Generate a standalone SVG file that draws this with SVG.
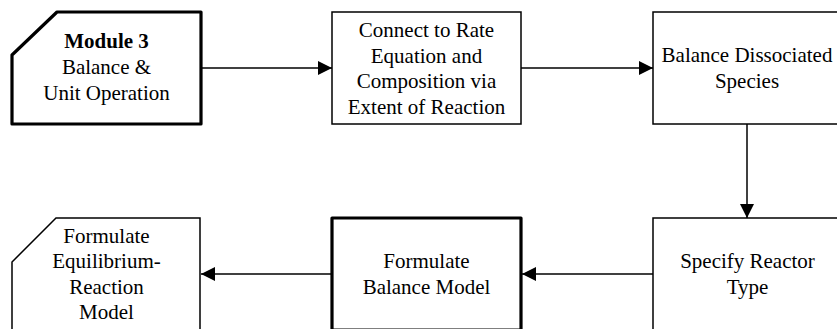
<svg xmlns="http://www.w3.org/2000/svg" width="837" height="329" viewBox="0 0 837 329">
<style>
.box{fill:#fff;stroke:#000;stroke-width:1.5}
.thick{fill:#fff;stroke:#000;stroke-width:3.2;stroke-linejoin:round}
.conn{stroke:#000;stroke-width:1.5;fill:none}
</style>
<defs>
<marker id="ah" markerWidth="14" markerHeight="14" viewBox="0 0 14 14" refX="14" refY="7" orient="auto" markerUnits="userSpaceOnUse">
<path d="M0,0 L14,7 L0,14 Z" fill="#000"/>
</marker>
</defs>
<rect width="837" height="329" fill="#fff"/>
<g id="connectors">
<line class="conn" x1="201" y1="68" x2="332" y2="68" marker-end="url(#ah)"/>
<line class="conn" x1="521" y1="68" x2="653" y2="68" marker-end="url(#ah)"/>
<line class="conn" x1="747" y1="124" x2="747" y2="218" marker-end="url(#ah)"/>
<line class="conn" x1="653" y1="274" x2="522" y2="274" marker-end="url(#ah)"/>
<line class="conn" x1="332" y1="274" x2="201" y2="274" marker-end="url(#ah)"/>
</g>
<g id="module3">
<path class="thick" d="M57,12 L201,12 L201,124 L12,124 L12,55 Z"/>
<text x="106.5" y="48" font-family="Liberation Serif" font-size="21" font-weight="bold" text-anchor="middle">Module 3</text>
<text x="106.5" y="74" font-family="Liberation Serif" font-size="21" text-anchor="middle">Balance &amp;</text>
<text x="106.5" y="100" font-family="Liberation Serif" font-size="21" text-anchor="middle">Unit Operation</text>
</g>
<g id="connect">
<rect class="box" x="332" y="12" width="189" height="112"/>
<text x="426.5" y="37" font-family="Liberation Serif" font-size="21" text-anchor="middle">Connect to Rate</text>
<text x="426.5" y="62.5" font-family="Liberation Serif" font-size="21" text-anchor="middle">Equation and</text>
<text x="426.5" y="88" font-family="Liberation Serif" font-size="21" text-anchor="middle">Composition via</text>
<text x="426.5" y="113.5" font-family="Liberation Serif" font-size="21" text-anchor="middle">Extent of Reaction</text>
</g>
<g id="balance">
<rect class="box" x="653" y="12" width="189" height="112"/>
<text x="747" y="62" font-family="Liberation Serif" font-size="21" text-anchor="middle">Balance Dissociated</text>
<text x="747" y="87.5" font-family="Liberation Serif" font-size="21" text-anchor="middle">Species</text>
</g>
<g id="specify">
<rect class="box" x="653" y="218" width="189" height="112"/>
<text x="747.5" y="268" font-family="Liberation Serif" font-size="21" text-anchor="middle">Specify Reactor</text>
<text x="747.5" y="293.5" font-family="Liberation Serif" font-size="21" text-anchor="middle">Type</text>
</g>
<g id="formulate-balance">
<rect class="thick" x="332" y="218" width="189" height="112"/>
<text x="426.5" y="268" font-family="Liberation Serif" font-size="21" text-anchor="middle">Formulate</text>
<text x="426.5" y="293.5" font-family="Liberation Serif" font-size="21" text-anchor="middle">Balance Model</text>
</g>
<g id="formulate-equilibrium">
<path class="box" d="M56,218 L200,218 L200,330 L12,330 L12,262 Z"/>
<text x="106.5" y="243" font-family="Liberation Serif" font-size="21" text-anchor="middle">Formulate</text>
<text x="106.5" y="268" font-family="Liberation Serif" font-size="21" text-anchor="middle">Equilibrium-</text>
<text x="106.5" y="293.5" font-family="Liberation Serif" font-size="21" text-anchor="middle">Reaction</text>
<text x="106.5" y="319" font-family="Liberation Serif" font-size="21" text-anchor="middle">Model</text>
</g>
</svg>
